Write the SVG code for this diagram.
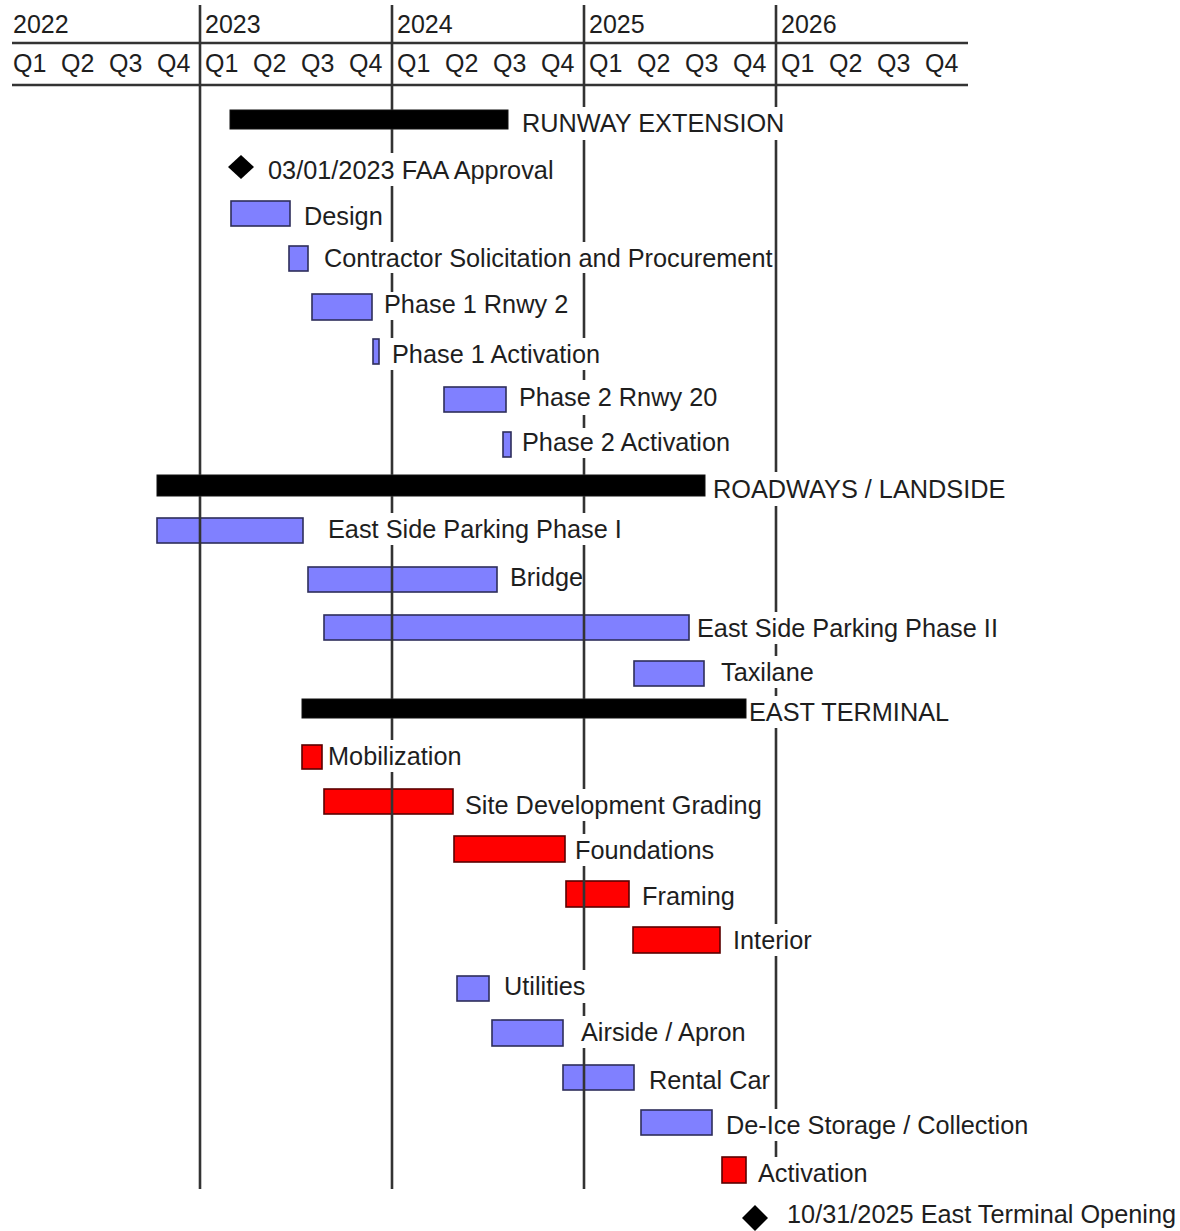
<svg xmlns="http://www.w3.org/2000/svg" width="1180" height="1231" viewBox="0 0 1180 1231">
<style>
text{font-family:"Liberation Sans",Arial,sans-serif;font-size:25.3px;fill:#1e1e1e}
.hd{font-size:25px}
.sum{fill:#000;stroke:#111;stroke-width:1}
.blue{fill:#8080ff;stroke:#2d2d5a;stroke-width:1.6}
.red{fill:#ff0000;stroke:#5a0000;stroke-width:1.6}
.ms{fill:#000}
.grid line{stroke:#333;stroke-width:2.6}
.hline{stroke:#333;stroke-width:2.6}
</style>
<defs>
<mask id="gridmask" maskUnits="userSpaceOnUse" x="0" y="0" width="1180" height="1231">
<rect x="0" y="0" width="1180" height="1231" fill="#fff"/>
<rect class="ms" x="230" y="110" width="278" height="19"/>
<rect class="ms" x="157" y="475" width="548" height="21"/>
<rect class="ms" x="302" y="699" width="444" height="19"/>
<rect class="ms" x="521" y="107" width="267" height="33"/>
<rect class="ms" x="267" y="153" width="290" height="33"/>
<rect class="ms" x="303" y="200" width="80" height="32"/>
<rect class="ms" x="323" y="242" width="449" height="31"/>
<rect class="ms" x="383" y="292" width="184" height="28"/>
<rect class="ms" x="390" y="338" width="211" height="32"/>
<rect class="ms" x="518" y="380" width="199" height="35"/>
<rect class="ms" x="521" y="428" width="210" height="30"/>
<rect class="ms" x="712" y="472" width="296" height="34"/>
<rect class="ms" x="327" y="513" width="294" height="32"/>
<rect class="ms" x="509" y="561" width="73" height="32"/>
<rect class="ms" x="696" y="612" width="300" height="32"/>
<rect class="ms" x="720" y="656" width="96" height="32"/>
<rect class="ms" x="748" y="696" width="202" height="32"/>
<rect class="ms" x="327" y="740" width="134" height="32"/>
<rect class="ms" x="464" y="789" width="297" height="32"/>
<rect class="ms" x="574" y="834" width="140" height="32"/>
<rect class="ms" x="641" y="880" width="93" height="33"/>
<rect class="ms" x="732" y="924" width="79" height="32"/>
<rect class="ms" x="503" y="970" width="84" height="33"/>
<rect class="ms" x="580" y="1016" width="166" height="32"/>
<rect class="ms" x="648" y="1064" width="121" height="32"/>
<rect class="ms" x="725" y="1109" width="303" height="32"/>
<rect class="ms" x="757" y="1157" width="110" height="32"/>
<rect class="ms" x="786" y="1198" width="392" height="32"/>
</mask>
</defs>
<rect width="1180" height="1231" fill="#fff"/>

<g id="header">
<line class="hline" x1="12" y1="43" x2="968" y2="43"/>
<line class="hline" x1="12" y1="85" x2="968" y2="85"/>
<text class="hd" x="13" y="33">2022</text>
<text class="hd" x="205" y="33">2023</text>
<text class="hd" x="397" y="33">2024</text>
<text class="hd" x="589" y="33">2025</text>
<text class="hd" x="781" y="33">2026</text>
<text class="hd" x="13" y="72">Q1</text><text class="hd" x="61" y="72">Q2</text><text class="hd" x="109" y="72">Q3</text><text class="hd" x="157" y="72">Q4</text>
<text class="hd" x="205" y="72">Q1</text><text class="hd" x="253" y="72">Q2</text><text class="hd" x="301" y="72">Q3</text><text class="hd" x="349" y="72">Q4</text>
<text class="hd" x="397" y="72">Q1</text><text class="hd" x="445" y="72">Q2</text><text class="hd" x="493" y="72">Q3</text><text class="hd" x="541" y="72">Q4</text>
<text class="hd" x="589" y="72">Q1</text><text class="hd" x="637" y="72">Q2</text><text class="hd" x="685" y="72">Q3</text><text class="hd" x="733" y="72">Q4</text>
<text class="hd" x="781" y="72">Q1</text><text class="hd" x="829" y="72">Q2</text><text class="hd" x="877" y="72">Q3</text><text class="hd" x="925" y="72">Q4</text>
</g>

<g id="runway-extension"><rect class="sum" x="230" y="110" width="278" height="19"/><text x="522" y="132">RUNWAY EXTENSION</text></g>
<g id="faa-approval"><polygon fill="#000" points="241,155 254,167 241,179 228,167"/><text x="268" y="179">03/01/2023 FAA Approval</text></g>
<g id="design"><rect class="blue" x="231" y="201" width="59" height="25"/><text x="304" y="225">Design</text></g>
<g id="contractor"><rect class="blue" x="289" y="246" width="19" height="25"/><text x="324" y="267">Contractor Solicitation and Procurement</text></g>
<g id="phase1-rnwy2"><rect class="blue" x="312" y="294" width="60" height="26"/><text x="384" y="313">Phase 1 Rnwy 2</text></g>
<g id="phase1-activation"><rect class="blue" x="373" y="339" width="6" height="25"/><text x="392" y="363">Phase 1 Activation</text></g>
<g id="phase2-rnwy20"><rect class="blue" x="444" y="387" width="62" height="25"/><text x="519" y="406">Phase 2 Rnwy 20</text></g>
<g id="phase2-activation"><rect class="blue" x="503" y="432" width="8" height="25"/><text x="522" y="451">Phase 2 Activation</text></g>

<g id="roadways-landside"><rect class="sum" x="157" y="475" width="548" height="21"/><text x="713" y="498">ROADWAYS / LANDSIDE</text></g>
<g id="esp-phase1"><rect class="blue" x="157" y="518" width="146" height="25"/><text x="328" y="538">East Side Parking Phase I</text></g>
<g id="bridge"><rect class="blue" x="308" y="567" width="189" height="25"/><text x="510" y="586">Bridge</text></g>
<g id="esp-phase2"><rect class="blue" x="324" y="615" width="365" height="25"/><text x="697" y="637">East Side Parking Phase II</text></g>
<g id="taxilane"><rect class="blue" x="634" y="661" width="70" height="25"/><text x="721" y="681">Taxilane</text></g>

<g id="east-terminal"><rect class="sum" x="302" y="699" width="444" height="19"/><text x="749" y="721">EAST TERMINAL</text></g>
<g id="mobilization"><rect class="red" x="302" y="745" width="20" height="24"/><text x="328" y="765">Mobilization</text></g>
<g id="site-development"><rect class="red" x="324" y="789" width="129" height="25"/><text x="465" y="814">Site Development Grading</text></g>
<g id="foundations"><rect class="red" x="454" y="836" width="111" height="26"/><text x="575" y="859">Foundations</text></g>
<g id="framing"><rect class="red" x="566" y="881" width="63" height="26"/><text x="642" y="905">Framing</text></g>
<g id="interior"><rect class="red" x="633" y="927" width="87" height="26"/><text x="733" y="949">Interior</text></g>
<g id="utilities"><rect class="blue" x="457" y="976" width="32" height="25"/><text x="504" y="995">Utilities</text></g>
<g id="airside-apron"><rect class="blue" x="492" y="1020" width="71" height="26"/><text x="581" y="1041">Airside / Apron</text></g>
<g id="rental-car"><rect class="blue" x="563" y="1065" width="71" height="25"/><text x="649" y="1089">Rental Car</text></g>
<g id="de-ice"><rect class="blue" x="641" y="1110" width="71" height="25"/><text x="726" y="1134">De-Ice Storage / Collection</text></g>
<g id="activation"><rect class="red" x="722" y="1157" width="24" height="26"/><text x="758" y="1182">Activation</text></g>
<g id="terminal-opening"><polygon fill="#000" points="755,1205 768,1218 755,1231 742,1218"/><text x="787" y="1223">10/31/2025 East Terminal Opening</text></g>

<g id="connectors" class="grid" mask="url(#gridmask)">
<line x1="200" y1="5" x2="200" y2="1189"/>
<line x1="392" y1="5" x2="392" y2="1189"/>
<line x1="584" y1="5" x2="584" y2="1189"/>
<line x1="776" y1="5" x2="776" y2="1189"/>
</g>
</svg>
